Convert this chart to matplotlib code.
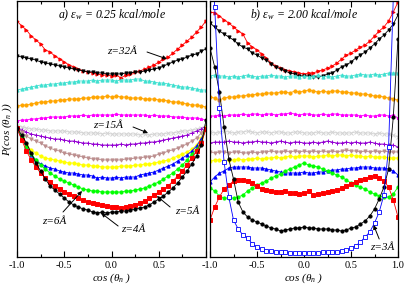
import numpy as np
import matplotlib.pyplot as plt

plt.rcParams['font.family'] = ['Liberation Serif', 'DejaVu Serif']
plt.rcParams['mathtext.fontset'] = 'custom'
plt.rcParams['mathtext.rm'] = 'Liberation Serif'
plt.rcParams['mathtext.it'] = 'Liberation Serif:italic'

# x positions: cos(theta_n), 41 bins from -1 to 1
cos_t = np.linspace(-1, 1, 41)

# panel a) eps_w = 0.25 kcal/mole  (arbitrary height units, top curve first)
a_red = [236,231,227,221,217,213,207,205,201,198,195,192,190,188,186,185,184,183,182,182,181,
         182,179,182,183,185,186,188,190,192,195,198,200,204,208,212,216,220,225,230,236]
a_black = [201,200,199,198,197,195,194,193,192,191,190,189,188,187,186,185,185,184,184,183,183,
           183,183,184,184,185,185,186,187,188,189,191,193,195,197,198,200,202,203,206,208]
a_cyan = [167,168,169,170,171,172,172,173,173,174,174,175,175,176,176,176,177,176,177,177,177,
          176,177,177,177,178,178,176,176,175,174,174,173,172,171,170,170,169,168,167,167]
a_orange = [151,152,152,153,154,155,155,156,156,157,157,158,158,158,159,159,160,160,160,161,160,
            161,160,160,159,159,159,158,158,158,157,157,156,155,155,154,153,152,152,151,150]
a_magenta = [136,137,137,138,138,139,139,140,140,140,140,141,141,141,142,141,142,142,142,142,142,
             143,142,142,142,142,142,142,141,142,141,141,141,140,140,140,139,139,139,138,137]
a_gray = [131,130,129,128,128,127,127,126,126,126,126,125,125,125,124,124,124,124,123,124,123,
          123,123,123,123,123,122,123,122,123,123,123,124,124,125,126,126,127,128,129,131]
a_purple = [130,127,125,123,122,121,120,119,118,118,117,116,116,115,114,114,113,113,112,112,112,
            112,113,112,113,113,114,114,115,115,116,117,118,119,120,121,122,124,126,128,131]
a_brown = [129,125,121,118,116,114,111,109,107,106,104,103,102,101,100,99,98,98,97,97,97,
           97,97,98,98,99,99,100,100,101,103,104,106,107,109,111,113,116,119,124,130]
a_yellow = [129,118,112,107,104,101,99,98,97,96,95,94,94,93,92,92,91,91,90,90,90,
            90,91,91,91,92,92,93,93,94,95,96,97,99,101,103,105,108,112,119,130]
a_blue = [129,118,110,102,97,93,91,89,88,86,85,84,84,83,82,82,81,79,80,79,79,
          80,79,80,80,80,82,83,84,85,87,89,91,93,96,99,102,106,111,118,128]
a_green = [129,120,110,103,97,92,88,84,81,78,76,74,72,70,68,67,66,66,65,65,65,
           65,65,66,66,67,68,69,71,73,75,78,81,84,88,92,97,103,108,115,128]
a_red_sq = [129,117,106,97,90,84,79,75,71,68,65,63,61,59,57,55,54,53,52,51,50,
            50,49,50,51,52,54,56,59,62,65,68,71,76,81,86,92,99,106,114,128]
a_black_c = [129,122,114,104,94,86,78,71,67,63,59,55,52,50,48,47,45,44,45,44,45,
             45,46,46,47,48,49,50,52,55,58,61,65,69,74,80,86,93,101,112,137]

# panel b) eps_w = 2.00 kcal/mole
b_red = [245,244,241,237,234,230,226,223,214,210,207,203,199,194,191,189,187,186,185,184,183,
         184,184,186,187,189,191,194,198,202,204,207,210,212,216,221,226,230,236,245,255]
b_black = [234,230,226,223,220,217,213,210,208,204,202,199,197,193,190,188,186,184,183,181,181,
           181,180,180,181,183,184,187,190,192,195,199,202,205,209,213,218,222,227,233,242]
b_cyan = [181,182,181,181,180,181,180,181,182,181,180,181,181,182,181,181,180,181,181,180,181,
          180,181,182,180,181,180,181,182,181,181,182,183,182,182,183,182,183,184,184,184]
b_orange = [160,159,157,159,160,160,161,161,162,162,163,163,164,164,164,165,165,164,166,165,166,
            167,166,165,166,165,166,166,165,165,164,164,163,163,162,161,161,160,159,158,157]
b_magenta = [141,141,142,141,142,142,142,143,142,143,143,142,143,143,142,143,143,144,143,142,143,
             143,142,142,143,142,143,143,142,142,142,142,141,142,141,141,142,142,141,142,139]
b_gray = [125,124,125,126,125,124,125,125,126,125,124,125,125,124,125,125,124,124,125,125,124,
          124,124,125,124,124,125,124,124,124,124,125,124,124,124,123,124,123,123,122,120]
b_purple = [114,115,115,115,116,115,115,114,115,115,116,115,115,114,115,116,115,114,115,115,114,
            114,115,114,115,116,115,114,114,115,114,115,114,114,115,114,113,113,112,112,110]
b_brown = [105,104,105,105,104,105,105,104,104,105,104,105,105,106,105,105,106,105,106,105,106,
           105,106,105,106,105,106,105,106,107,106,106,105,106,105,106,105,106,105,105,105]
b_yellow = [96,97,97,96,97,97,98,97,98,98,99,98,99,99,100,99,100,101,100,101,101,
            101,100,101,101,102,101,102,102,101,102,101,101,100,101,100,100,100,99,99,99]
b_blue = [75,80,84,86,89,90,90,90,90,89,89,89,88,87,86,85,84,84,84,84,85,
          84,84,85,85,86,87,87,88,88,89,89,90,90,90,89,89,89,88,86,82]
b_green = [69,66,61,59,59,59,60,62,66,69,72,74,76,79,81,83,86,88,90,92,94,
           92,91,90,88,86,84,82,80,77,74,72,70,68,65,63,61,60,60,63,70]
b_red_sq = [37,50,60,68,72,76,77,77,76,74,71,68,67,66,65,65,66,64,64,63,64,
            66,62,63,64,65,66,67,69,71,73,75,77,78,80,81,79,76,70,57,40]
b_black_c = [209,190,165,130,98,78,55,45,40,37,35,33,31,29,28,26,27,28,29,29,30,
             29,29,28,28,28,27,27,26,27,29,30,33,36,41,48,58,70,88,140,218]
b_blue_sq = [330,250,149,95,60,37,28,22,19,13,10,8,6,6,5,5,5,4,4,4,4,
             4,4,4,5,5,5,5,6,7,9,11,15,20,25,34,45,62,110,260,340]

styles = [('red', '>'), ('black', 'v'), ('#40e0d0', '^'), ('orange', 'o'),
          ('magenta', '*'), ('#d3d3d3', 'x'), ('#9400d3', '+'), ('#bc8f8f', 'v'),
          ('yellow', 'o'), ('blue', '^'), ('#00ff00', 'o'), ('red', 's'), ('black', 'o')]

series_a = [a_red, a_black, a_cyan, a_orange, a_magenta, a_gray, a_purple,
            a_brown, a_yellow, a_blue, a_green, a_red_sq, a_black_c]
series_b = [b_red, b_black, b_cyan, b_orange, b_magenta, b_gray, b_purple,
            b_brown, b_yellow, b_blue, b_green, b_red_sq, b_black_c]

fig = plt.figure(figsize=(4.07, 2.85), dpi=100)
ax1 = fig.add_axes([17/407, 28/285, 189/407, 256/285])
ax2 = fig.add_axes([210/407, 28/285, 188/407, 256/285])

for ax, series in [(ax1, series_a), (ax2, series_b)]:
    for ys, (col, mk) in zip(series, styles):
        ax.plot(cos_t, ys, color=col, marker=mk, ms=2.3, lw=0.6, mew=0.7)
ax2.plot(cos_t, b_blue_sq, color='blue', marker='s', ms=2.5, lw=0.6, mew=0.6, mfc='white')

for ax in (ax1, ax2):
    ax.set_xlim(-1, 1)
    ax.set_ylim(0, 256)
    ax.set_yticks([])
    ax.set_xticks([-1, -0.5, 0, 0.5, 1])
    ax.set_xticks([-0.75, -0.25, 0.25, 0.75], minor=True)
    ax.tick_params(axis='x', which='both', direction='in', top=True, labelsize=7.5, pad=3)
    ax.tick_params(axis='x', which='major', length=4, width=0.8)
    ax.tick_params(axis='x', which='minor', length=2.5, width=0.8)
    ax.set_xlabel('cos (θ$_n$ )', fontstyle='italic', fontsize=8, labelpad=1)
    for s in ax.spines.values():
        s.set_linewidth(0.9)

ax1.set_xticklabels(['-1.0', '-0.5', '0.0', '0.5', ''])
ax2.set_xticklabels(['-1.0', '-0.5', '0.0', '0.5', '1.0'])
ax1.set_ylabel('P(cos (θ$_n$ ))', fontstyle='italic', fontsize=8, labelpad=2)

ax1.text(0.5, 0.945, 'a) ε$_w$ = 0.25 kcal/mole', transform=ax1.transAxes,
         ha='center', va='center', fontstyle='italic', fontsize=8.5)
ax2.text(0.5, 0.945, 'b) ε$_w$ = 2.00 kcal/mole', transform=ax2.transAxes,
         ha='center', va='center', fontstyle='italic', fontsize=8.5)

arrow = dict(arrowstyle='-|>', color='black', lw=0.7, mutation_scale=6, shrinkA=0, shrinkB=0)
notes_a = [('z=32Å', (0.11, 205), (0.376, 205), (0.587, 198)),
           ('z=15Å', (-0.04, 131), (0.228, 130), (0.386, 124)),
           ('z=6Å', (-0.61, 35), (-0.513, 45), (-0.312, 66)),
           ('z=4Å', (0.23, 27), (0.07, 31), (-0.11, 44)),
           ('z=5Å', (0.80, 45), (0.62, 50), (0.48, 61))]
for label, txt, tail, head in notes_a:
    ax1.text(txt[0], txt[1], label, ha='center', va='center', fontstyle='italic', fontsize=8)
    ax1.annotate('', xy=head, xytext=tail, arrowprops=arrow)
ax2.text(0.83, 10, 'z=3Å', ha='center', va='center', fontstyle='italic', fontsize=8)
ax2.annotate('', xy=(0.74, 32), xytext=(0.80, 18), arrowprops=arrow)

fig.savefig('out.png', dpi=100)
